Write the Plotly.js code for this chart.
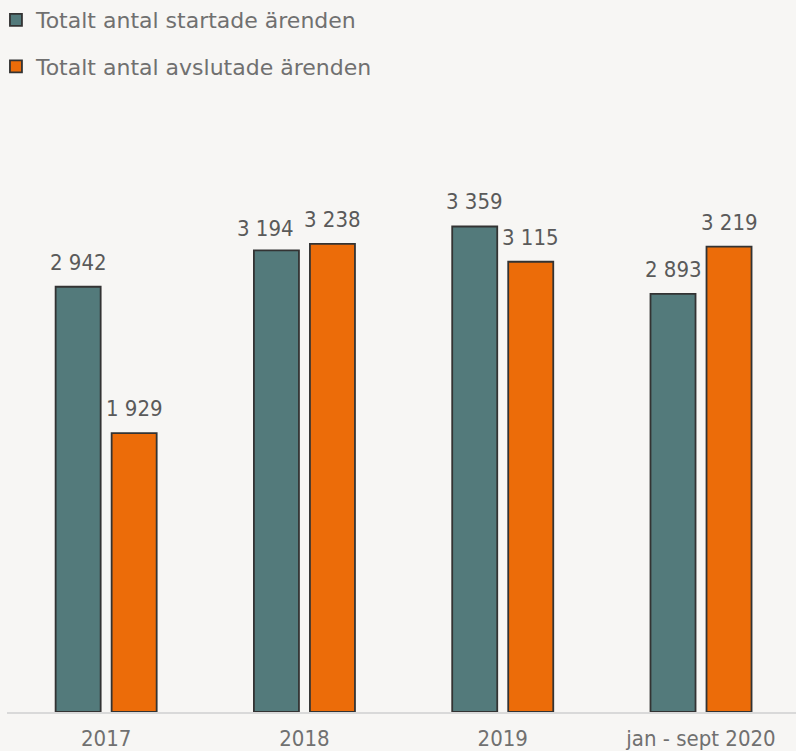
<!DOCTYPE html>
<html>
<head>
<meta charset="utf-8">
<script src="https://cdn.plot.ly/plotly-3.0.1.min.js"></script>
<style>
  html, body { margin: 0; padding: 0; background: #f7f6f4; }
  #chart { width: 796px; height: 751px; }
</style>
</head>
<body>
<div id="chart"></div>
<script>
const categories = ['2017', '2018', '2019', 'jan - sept 2020'];
const startade = [2942, 3194, 3359, 2893];
const avslutade = [1929, 3238, 3115, 3219];
const seriesNames = ['Totalt antal startade ärenden', 'Totalt antal avslutade ärenden'];
const seriesColors = ['#537a7b', '#ec6c09'];

const FONT = '"DejaVu Sans Condensed", "DejaVu Sans", sans-serif';
const LEGEND_FONT = '"DejaVu Sans", sans-serif';
const BARGAP = 0.435;
const BARGROUPGAP = 0.196;

function fmt(v) {
  return String(v).replace(/\B(?=(\d{3})+(?!\d))/g, ' ');
}

const allSeries = [startade, avslutade];
const traces = allSeries.map((vals, s) => ({
  type: 'bar',
  name: seriesNames[s],
  x: categories,
  y: vals,
  legendgroup: 'g' + s,
  marker: { color: seriesColors[s], line: { color: '#333333', width: 1.8 } },
  hoverinfo: 'skip'
}));

// small label nudges (like the original, where close labels are moved apart)
const nudge = { '0-1': { dx: -11, dy: -3 } };

const slotOffset = (1 - BARGAP) / 4;
const annotations = [];
allSeries.forEach((vals, s) => {
  vals.forEach((v, i) => {
    const n = nudge[s + '-' + i] || { dx: 0, dy: 0 };
    annotations.push({
      x: i + (s === 0 ? -slotOffset : slotOffset),
      y: v,
      xref: 'x', yref: 'y',
      text: fmt(v),
      showarrow: false,
      yanchor: 'bottom',
      xanchor: 'center',
      xshift: n.dx,
      yshift: 10 + n.dy,
      font: { family: FONT, size: 22, color: '#5a5a5a' }
    });
  });
});

const layout = {
  width: 796,
  height: 751,
  paper_bgcolor: '#f7f6f4',
  plot_bgcolor: '#f7f6f4',
  margin: { l: 7, r: 0, t: 100, b: 39, pad: 0, autoexpand: false },
  barmode: 'group',
  bargap: BARGAP,
  bargroupgap: BARGROUPGAP,
  showlegend: true,
  legend: {
    x: -0.014, y: 1.165, xanchor: 'left', yanchor: 'top',
    orientation: 'v',
    tracegroupgap: 15,
    font: { family: LEGEND_FONT, size: 22, color: '#707070' },
    bgcolor: 'rgba(0,0,0,0)'
  },
  xaxis: {
    type: 'category',
    range: [-0.5, 3.479],
    showline: true, linecolor: '#d9d9d9', linewidth: 2,
    showgrid: false, zeroline: false,
    ticks: '',
    ticklabelstandoff: 6,
    tickfont: { family: FONT, size: 22, color: '#707070' },
    fixedrange: true
  },
  yaxis: {
    range: [0, 4234],
    visible: false,
    showgrid: false, zeroline: false,
    fixedrange: true
  },
  annotations: annotations
};

Plotly.newPlot('chart', traces, layout, { displayModeBar: false, staticPlot: true });
</script>
</body>
</html>
